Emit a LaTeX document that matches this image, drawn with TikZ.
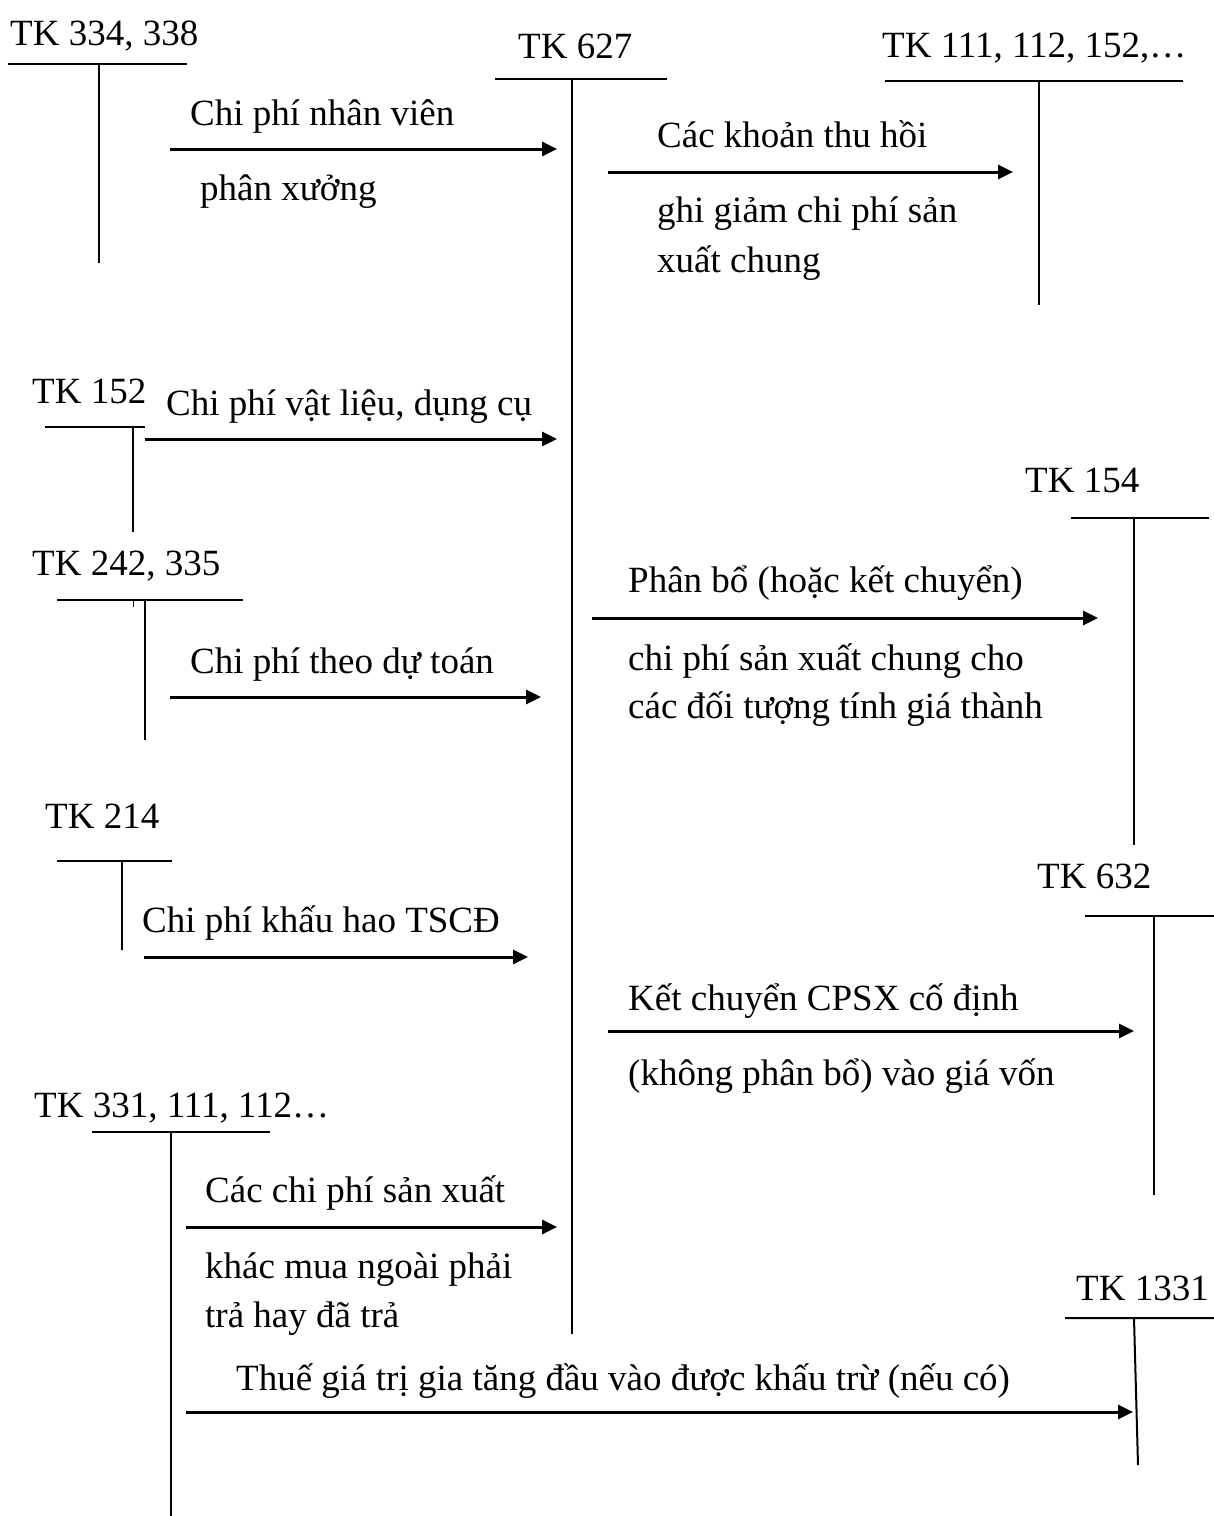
\documentclass[tikz,border=0pt]{standalone}
\usepackage{fontspec}
\setmainfont{Liberation Serif}
\usetikzlibrary{arrows.meta}
\begin{document}
\begin{tikzpicture}[x=1pt,y=-1pt,
  lbl/.style={anchor=base west,inner sep=0pt,font=\fontsize{37}{44}\selectfont},
  ledger/.style={line width=2pt},
  flow/.style={line width=3pt,-{Triangle[length=15pt,width=14pt]}}]
\useasboundingbox (0,0) rectangle (1214,1516);

% ---- T-accounts: title, horizontal bar, vertical stem ----
% TK 334, 338
\node[lbl] (a334) at (10,45) {TK 334, 338};
\coordinate (a334l) at (8,64);   \coordinate (a334r) at (187,64);
\coordinate (a334t) at (99,64);  \coordinate (a334b) at (99,263);
\draw[ledger] (a334l) -- (a334r) (a334t) -- (a334b);

% TK 627
\node[lbl] (a627) at (518,58) {TK 627};
\coordinate (a627l) at (495,79);  \coordinate (a627r) at (667,79);
\coordinate (a627t) at (572,79);  \coordinate (a627b) at (572,1334);
\draw[ledger] (a627l) -- (a627r) (a627t) -- (a627b);

% TK 111, 112, 152,...
\node[lbl] (a111) at (882,57) {TK 111, 112, 152,…};
\coordinate (a111l) at (885,81);  \coordinate (a111r) at (1183,81);
\coordinate (a111t) at (1039,81); \coordinate (a111b) at (1039,305);
\draw[ledger] (a111l) -- (a111r) (a111t) -- (a111b);

% TK 152
\node[lbl] (a152) at (32,403) {TK 152};
\coordinate (a152l) at (45,427);  \coordinate (a152r) at (145,427);
\coordinate (a152t) at (133,427); \coordinate (a152b) at (133,532);
\draw[ledger] (a152l) -- (a152r) (a152t) -- (a152b);

% TK 242, 335
\node[lbl] (a242) at (32,575) {TK 242, 335};
\coordinate (a242l) at (57,600);  \coordinate (a242r) at (243,600);
\coordinate (a242t) at (145,600); \coordinate (a242b) at (145,740);
\coordinate (a242k) at (133,600); \coordinate (a242m) at (133,607);
\draw[ledger] (a242l) -- (a242r) (a242t) -- (a242b);
\draw[line width=1pt] (a242k) -- (a242m);

% TK 154
\node[lbl] (a154) at (1025,492) {TK 154};
\coordinate (a154l) at (1071,518); \coordinate (a154r) at (1209,518);
\coordinate (a154t) at (1134,518); \coordinate (a154b) at (1134,845);
\draw[ledger] (a154l) -- (a154r) (a154t) -- (a154b);

% TK 214
\node[lbl] (a214) at (45,828) {TK 214};
\coordinate (a214l) at (57,861);  \coordinate (a214r) at (172,861);
\coordinate (a214t) at (122,861); \coordinate (a214b) at (122,950);
\draw[ledger] (a214l) -- (a214r) (a214t) -- (a214b);

% TK 632
\node[lbl] (a632) at (1037,888) {TK 632};
\coordinate (a632l) at (1085,916); \coordinate (a632r) at (1214,916);
\coordinate (a632t) at (1154,916); \coordinate (a632b) at (1154,1195);
\draw[ledger] (a632l) -- (a632r) (a632t) -- (a632b);

% TK 331, 111, 112...
\node[lbl] (a331) at (34,1117) {TK 331, 111, 112…};
\coordinate (a331l) at (92,1132);  \coordinate (a331r) at (270,1132);
\coordinate (a331t) at (171,1132); \coordinate (a331b) at (171,1516);
\draw[ledger] (a331l) -- (a331r) (a331t) -- (a331b);

% TK 1331
\node[lbl] (a1331) at (1076,1300) {TK 1331};
\coordinate (a1331l) at (1065,1318); \coordinate (a1331r) at (1214,1318);
\coordinate (a1331t) at (1134,1318); \coordinate (a1331b) at (1138,1465);
\draw[ledger] (a1331l) -- (a1331r) (a1331t) -- (a1331b);

% ---- Entries ----
\coordinate (f1s) at (170,149);  \coordinate (f1e) at (557,149);
\draw[flow] (f1s) -- (f1e);
\node[lbl] (f1a) at (190,125) {Chi phí nhân viên};
\node[lbl] (f1b) at (200,200) {phân xưởng};

\coordinate (f2s) at (608,172);  \coordinate (f2e) at (1013,172);
\draw[flow] (f2s) -- (f2e);
\node[lbl] (f2a) at (657,147) {Các khoản thu hồi};
\node[lbl] (f2b) at (657,222) {ghi giảm chi phí sản};
\node[lbl] (f2c) at (657,272) {xuất chung};

\coordinate (f3s) at (145,439);  \coordinate (f3e) at (557,439);
\draw[flow] (f3s) -- (f3e);
\node[lbl] (f3a) at (166,415) {Chi phí vật liệu, dụng cụ};

\coordinate (f4s) at (170,697);  \coordinate (f4e) at (541,697);
\draw[flow] (f4s) -- (f4e);
\node[lbl] (f4a) at (190,673) {Chi phí theo dự toán};

\coordinate (f5s) at (592,618);  \coordinate (f5e) at (1098,618);
\draw[flow] (f5s) -- (f5e);
\node[lbl] (f5a) at (628,592) {Phân bổ (hoặc kết chuyển)};
\node[lbl] (f5b) at (628,670) {chi phí sản xuất chung cho};
\node[lbl] (f5c) at (628,718) {các đối tượng tính giá thành};

\coordinate (f6s) at (144,957);  \coordinate (f6e) at (528,957);
\draw[flow] (f6s) -- (f6e);
\node[lbl] (f6a) at (142,932) {Chi phí khấu hao TSCĐ};

\coordinate (f7s) at (608,1031); \coordinate (f7e) at (1134,1031);
\draw[flow] (f7s) -- (f7e);
\node[lbl] (f7a) at (628,1010) {Kết chuyển CPSX cố định};
\node[lbl] (f7b) at (628,1085) {(không phân bổ) vào giá vốn};

\coordinate (f8s) at (186,1227); \coordinate (f8e) at (557,1227);
\draw[flow] (f8s) -- (f8e);
\node[lbl] (f8a) at (205,1202) {Các chi phí sản xuất};
\node[lbl] (f8b) at (205,1278) {khác mua ngoài phải};
\node[lbl] (f8c) at (205,1327) {trả hay đã trả};

\coordinate (f9s) at (186,1412); \coordinate (f9e) at (1133,1412);
\draw[flow] (f9s) -- (f9e);
\node[lbl] (f9a) at (236,1390) {Thuế giá trị gia tăng đầu vào được khấu trừ (nếu có)};
\end{tikzpicture}
\end{document}
